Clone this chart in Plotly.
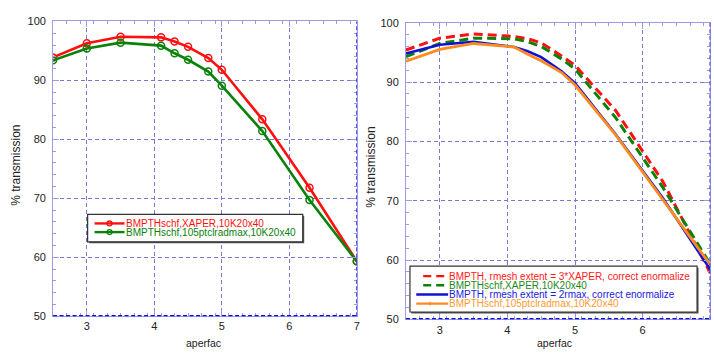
import plotly.graph_objects as go

# ---------------- data ----------------
aperfac = [2.5, 3.0, 3.5, 4.1, 4.3, 4.5, 4.8, 5.0, 5.6, 6.3, 7.0]

# left panel
left_xaper = [93.9, 96.3, 97.4, 97.3, 96.6, 95.7, 93.8, 91.8, 83.4, 71.8, 59.3]
left_105 = [93.4, 95.4, 96.4, 95.9, 94.6, 93.5, 91.5, 89.1, 81.4, 69.7, 59.3]

# right panel
right_rmesh3 = [95.4, 97.4, 98.1, 97.7, 97.3, 96.6, 94.4, 92.8, 85.2, 73.2, 57.8]
right_xaper = [94.3, 96.5, 97.4, 97.3, 96.8, 96.0, 93.9, 92.2, 84.0, 72.2, 59.3]
right_rmesh2 = [94.8, 96.3, 96.8, 95.9, 95.2, 94.2, 91.8, 89.8, 81.2, 70.4, 58.4]
right_105 = [93.5, 95.5, 96.5, 95.9, 94.7, 93.6, 91.6, 89.5, 81.1, 70.1, 59.2]

left_names = ["BMPTHschf,XAPER,10K20x40", "BMPTHschf,105ptclradmax,10K20x40"]
right_names = ["BMPTH, rmesh extent = 3*XAPER, correct enormalize",
               "BMPTHschf,XAPER,10K20x40",
               "BMPTH, rmesh extent = 2rmax, correct enormalize",
               "BMPTHschf,105ptclradmax,10K20x40"]

x_ticks_left = [3, 4, 5, 6, 7]
x_ticks_right = [3, 4, 5, 6]
y_ticks = [50, 60, 70, 80, 90, 100]

RED = "#ff1010"
GREEN = "#0a820a"
BLUE = "#1010d8"
ORANGE = "#ff8a1e"
FONT = "Liberation Sans, Arial, sans-serif"
W, H = 714, 356

fig = go.Figure()

fig.add_trace(go.Scatter(x=aperfac, y=left_xaper, mode="lines+markers", name=left_names[0],
                         line=dict(color=RED, width=2.6),
                         marker=dict(symbol="circle-open", size=7, color=RED, line=dict(width=1.5)),
                         xaxis="x", yaxis="y", showlegend=False))
fig.add_trace(go.Scatter(x=aperfac, y=left_105, mode="lines+markers", name=left_names[1],
                         line=dict(color=GREEN, width=2.6),
                         marker=dict(symbol="circle-open", size=7, color=GREEN, line=dict(width=1.5)),
                         xaxis="x", yaxis="y", showlegend=False))

fig.add_trace(go.Scatter(x=aperfac, y=right_rmesh3, mode="lines", name=right_names[0],
                         line=dict(color=RED, width=3, dash="9px,5px"),
                         xaxis="x2", yaxis="y2", showlegend=False))
fig.add_trace(go.Scatter(x=aperfac, y=right_xaper, mode="lines", name=right_names[1],
                         line=dict(color=GREEN, width=3, dash="9px,5px"),
                         xaxis="x2", yaxis="y2", showlegend=False))
fig.add_trace(go.Scatter(x=aperfac, y=right_rmesh2, mode="lines", name=right_names[2],
                         line=dict(color=BLUE, width=2.6),
                         xaxis="x2", yaxis="y2", showlegend=False))
fig.add_trace(go.Scatter(x=aperfac, y=right_105, mode="lines", name=right_names[3],
                         line=dict(color=ORANGE, width=2.8),
                         xaxis="x2", yaxis="y2", showlegend=False))

FRAME = "#9a9ae6"
GRID = "#7878d6"
tickfont = dict(family=FONT, size=11, color="#222222")


def xax(domain, tickvals, anchor):
    return dict(domain=domain, range=[2.5, 7], anchor=anchor, tickvals=tickvals,
                showline=True, linecolor=FRAME, linewidth=1, mirror="ticks",
                ticks="inside", ticklen=6, tickcolor=FRAME,
                minor=dict(dtick=0.2, tick0=2.5, ticks="inside", ticklen=3, tickcolor=FRAME, showgrid=False),
                showgrid=True, gridcolor=GRID, griddash="4px,3px", gridwidth=1,
                zeroline=False, tickfont=tickfont)


def yax(domain, anchor):
    return dict(domain=domain, range=[50, 100], anchor=anchor, tickvals=y_ticks,
                showline=True, linecolor=FRAME, linewidth=1, mirror="ticks",
                ticks="inside", ticklen=6, tickcolor=FRAME,
                minor=dict(dtick=2, tick0=50, ticks="inside", ticklen=3, tickcolor=FRAME, showgrid=False),
                showgrid=True, gridcolor=GRID, griddash="4px,3px", gridwidth=1,
                zeroline=False, tickfont=tickfont, ticklabelstandoff=4)


def px(x):
    return x / W


def py(y):
    return 1 - y / H


shapes = []
annotations = []

# thick dotted bottom/right edges
for xr, yr in (("x", "y"), ("x2", "y2")):
    shapes.append(dict(type="line", xref=xr + " domain", x0=0, x1=1, yref=yr, y0=50, y1=50,
                       line=dict(color="#0a0ae6", width=2.6, dash="4px,2.5px"), layer="above"))
    shapes.append(dict(type="line", xref=xr, x0=7, x1=7, yref=yr + " domain", y0=0, y1=1,
                       line=dict(color="#2a2ae0", width=1.6, dash="4px,2.5px"), layer="above"))

# axis titles
for cx in (204, 557):
    annotations.append(dict(text="aperfac", x=px(cx), y=py(349), xref="paper", yref="paper",
                            showarrow=False, xanchor="center", yanchor="middle",
                            font=dict(family=FONT, size=10.5, color="#222222")))
for cx, cy in ((16.5, 165), (373, 167)):
    annotations.append(dict(text="% transmission", x=px(cx), y=py(cy), xref="paper", yref="paper",
                            showarrow=False, xanchor="center", yanchor="middle", textangle=-90,
                            font=dict(family=FONT, size=12, color="#222222")))

# ---- left legend ----
shapes.append(dict(type="rect", xref="paper", yref="paper", x0=px(89.5), x1=px(305.5), y0=py(245.5), y1=py(217),
                   fillcolor="#555555", line=dict(width=0), layer="above"))
shapes.append(dict(type="rect", xref="paper", yref="paper", x0=px(88), x1=px(304), y0=py(244), y1=py(215.7),
                   fillcolor="white", line=dict(color="#333333", width=1.2), layer="above"))
for i, (nm, col) in enumerate(zip(left_names, (RED, GREEN))):
    yy = 225 + 9 * i
    shapes.append(dict(type="line", xref="paper", yref="paper", x0=px(95), x1=px(125), y0=py(yy), y1=py(yy),
                       line=dict(color=col, width=2.4), layer="above"))
    shapes.append(dict(type="circle", xref="paper", yref="paper", x0=px(107.5), x1=px(112.5),
                       y0=py(yy + 2.5), y1=py(yy - 2.5), line=dict(color=col, width=1.3),
                       fillcolor="rgba(0,0,0,0)", layer="above"))
    annotations.append(dict(text=nm, x=px(124.5), y=py(yy), xref="paper", yref="paper", showarrow=False,
                            xanchor="left", yanchor="middle", font=dict(family=FONT, size=10, color=col)))

# ---- right legend ----
shapes.append(dict(type="rect", xref="paper", yref="paper", x0=px(413), x1=px(701.5), y0=py(318.2), y1=py(270.8),
                   fillcolor="#555555", line=dict(width=0), layer="above"))
shapes.append(dict(type="rect", xref="paper", yref="paper", x0=px(411.7), x1=px(700), y0=py(316.7), y1=py(269.3),
                   fillcolor="white", line=dict(color="#333333", width=1.2), layer="above"))
rcols = (RED, GREEN, BLUE, ORANGE)
rys = (279.5, 289, 298.5, 308)
rtext = ("#ff2020", "#1a8a1a", "#2020e0", "#ff9a30")
for i, (nm, col, yy, tc) in enumerate(zip(right_names, rcols, rys, rtext)):
    if i < 2:
        shapes.append(dict(type="line", xref="paper", yref="paper", x0=px(425), x1=px(447), y0=py(yy), y1=py(yy),
                           line=dict(color=col, width=2.4, dash="8px,5px"), layer="above"))
    else:
        shapes.append(dict(type="line", xref="paper", yref="paper", x0=px(418), x1=px(450), y0=py(yy), y1=py(yy),
                           line=dict(color=col, width=2.4), layer="above"))
    if i == 3:
        shapes.append(dict(type="line", xref="paper", yref="paper", x0=px(432), x1=px(432),
                           y0=py(yy - 2), y1=py(yy + 2), line=dict(color=col, width=1.2), layer="above"))
    annotations.append(dict(text=nm, x=px(449), y=py(yy), xref="paper", yref="paper", showarrow=False,
                            xanchor="left", yanchor="middle", font=dict(family=FONT, size=10, color=tc)))

fig.update_layout(
    width=W, height=H, autosize=False,
    margin=dict(l=0, r=0, t=0, b=0),
    paper_bgcolor="white", plot_bgcolor="white",
    xaxis=xax([53.3 / W, 358.3 / W], x_ticks_left, "y"),
    yaxis=yax([35 / H, 340 / H], "x"),
    xaxis2=xax([407.7 / W, 713.3 / W], x_ticks_right, "y2"),
    yaxis2=yax([31.7 / H, 338.7 / H], "x2"),
    shapes=shapes, annotations=annotations,
    showlegend=False,
    font=dict(family=FONT),
)

fig.write_html("out.html",
               config={"displayModeBar": False},
               post_script="document.body.style.margin='0';document.body.style.padding='0';"
                           "document.body.style.overflow='hidden';")
